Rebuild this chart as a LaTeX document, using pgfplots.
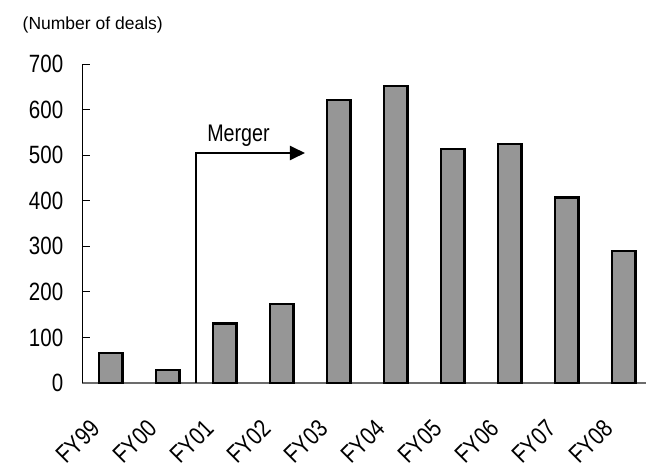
\documentclass[border=0pt]{standalone}
\usepackage{fontspec}
\setmainfont{Liberation Sans}
\newfontfamily\narrow[FakeStretch=0.82]{Liberation Sans}
\usepackage{pgfplots}
\pgfplotsset{compat=1.18}
\usetikzlibrary{arrows.meta}
\definecolor{bargray}{HTML}{969696}
\begin{document}
\begin{tikzpicture}
\begin{axis}[
  scale only axis,
  width=563.6pt, height=319pt,
  at={(82.4pt,80pt)}, anchor=south west,
  xmin=-0.5, xmax=9.388,
  ymin=0, ymax=700,
  axis x line=bottom, axis y line=left,
  axis line style={-},
  x axis line style={gray!85!black, line width=1.2pt},
  y axis line style={black, line width=1.2pt},
  ytick={0,100,...,700},
  xtick={0,...,9},
  xticklabels={FY99,FY00,FY01,FY02,FY03,FY04,FY05,FY06,FY07,FY08},
  major x tick style={draw=none},
  extra x ticks={0.5,1.5,...,8.5},
  extra x tick labels={},
  extra x tick style={major tick length=9pt, tick align=inside, major tick style={black, line width=1pt}},
  tick align=inside,
  major tick length=8pt,
  y tick style={black, line width=1pt},
  /pgf/number format/assume math mode=true,
  yticklabel style={font=\narrow\fontsize{25}{30}\selectfont, anchor=east, inner sep=0pt, xshift=-19pt},
  xticklabel style={font=\narrow\fontsize{25}{30}\selectfont, inner sep=0pt, xshift=-15.4pt, yshift=-41pt, rotate=45, anchor=east},
  clip=false,
]
\addplot[ybar, bar width=0.41, fill=bargray, draw=black, line width=2.5pt] coordinates {
  (0,66) (1,29) (2,131) (3,173) (4,621) (5,652) (6,513) (7,524) (8,407) (9,290)
};
\draw[line width=2pt, -{Triangle[length=15pt,width=14pt]}] (axis cs:1.5,0) |- (axis cs:3.405,504.7);
\node[anchor=base, inner sep=0pt, font=\narrow\fontsize{24}{28}\selectfont] at (axis cs:2.239,529.5) {Merger};
\end{axis}
\node[anchor=base west, inner sep=0pt, font=\fontsize{17.5}{21}\selectfont] at (22.5pt,433.7pt) {(Number of deals)};
\pgfresetboundingbox
\path[use as bounding box] (0,0) rectangle (646pt,463pt);
\end{tikzpicture}
\end{document}
